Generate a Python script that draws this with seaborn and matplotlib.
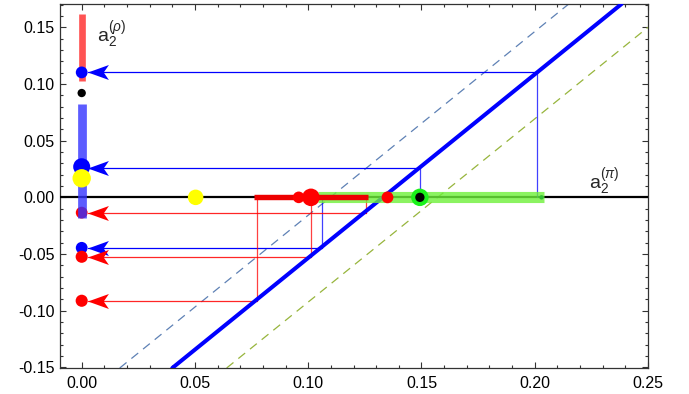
import numpy as np
import pandas as pd
import matplotlib
matplotlib.use("Agg")
import matplotlib.pyplot as plt
from matplotlib.path import Path
from matplotlib.ticker import MultipleLocator, FormatStrFormatter
import seaborn as sns

# ---------------- data ----------------
# three parallel straight lines (end points inside the frame)
main_line_x = [0.0400, 0.2383]
main_line_y = [-0.1505, 0.1705]
left_dash_x = [0.0168, 0.2150]
left_dash_y = [-0.1505, 0.1705]
right_dash_x = [0.0640, 0.2500]
right_dash_y = [-0.1505, 0.1500]

# blue steps (a2 pi on axis -> line -> a2 rho on y axis)
blue_step_x = [0.2012, 0.1493, 0.1060]
blue_step_y = [0.1102, 0.0260, -0.0445]
# red steps
red_step_x = [0.1253, 0.1012, 0.0772]
red_step_y = [-0.0135, -0.0524, -0.0912]

# range bars
rho_red_bar = [0.1028, 0.1616]
rho_blue_bar = [-0.0185, 0.0820]
pi_red_bar = [0.0761, 0.1264]
pi_green_bar = [0.1043, 0.2040]

# points on the y axis
yaxis_blue_y = [0.1102, -0.0445]
yaxis_blue_big_y = [0.0270]
yaxis_red_y = [-0.0524, -0.0912]
yaxis_red_under_y = [-0.0135]
yaxis_black_y = [0.0920]
yaxis_yellow_y = [0.0168]

# points on the x axis
xaxis_yellow_x = [0.0503]
xaxis_red_x = [0.0958, 0.1350, 0.1012]
xaxis_red_size = [70, 72, 160]
xaxis_green_x = [0.1493]
xaxis_green_end_x = [0.2030]

xticks = [0.00, 0.05, 0.10, 0.15, 0.20, 0.25]
yticks = [-0.15, -0.10, -0.05, 0.00, 0.05, 0.10, 0.15]

# ---------------- style ----------------
sns.set_theme(style="ticks")
plt.rcParams['font.family'] = ['Liberation Sans', 'DejaVu Sans']
plt.rcParams['mathtext.fontset'] = 'custom'
plt.rcParams['mathtext.rm'] = 'Liberation Sans'
plt.rcParams['mathtext.it'] = 'Liberation Sans:italic'

fig = plt.figure(figsize=(6.89, 3.94), dpi=100)
ax = fig.add_axes([0.0871, 0.066, 0.8534, 0.9238])
ax.set_xlim(-0.00957, 0.25)
ax.set_ylim(-0.1505, 0.1705)

BLUE = (0, 0, 1)
RED = (1, 0, 0)

# dashed guide lines
sns.lineplot(x=left_dash_x, y=left_dash_y, ax=ax, color="#5E81B5", lw=0.9,
             linestyle=(0, (7, 5)), zorder=2, sort=False)
sns.lineplot(x=right_dash_x, y=right_dash_y, ax=ax, color="#97B53C", lw=0.9,
             linestyle=(0, (7, 5)), zorder=2, sort=False)

# x axis line
ax.axhline(0, color="black", lw=1.6, zorder=3)

# step lines
for xs, ys in zip(blue_step_x, blue_step_y):
    ax.plot([xs, xs], [0, ys], color=BLUE, lw=0.9, alpha=0.75, zorder=4)
    ax.plot([0.003, xs], [ys, ys], color=BLUE, lw=0.9, zorder=4)
for xs, ys in zip(red_step_x, red_step_y):
    ax.plot([xs, xs], [0, ys], color=RED, lw=0.9, alpha=0.75, zorder=4)
    ax.plot([0.003, xs], [ys, ys], color=RED, lw=0.9, alpha=0.85, zorder=4)

# main line
sns.lineplot(x=main_line_x, y=main_line_y, ax=ax, color=BLUE, lw=2.9,
             zorder=5, sort=False)

# range bars on the x axis
ax.plot(pi_green_bar, [0, 0], color="#6ef03a", lw=8.0, alpha=0.8,
        solid_capstyle="butt", zorder=6)
ax.plot(pi_red_bar, [0, 0], color=(0.93, 0, 0), lw=3.9,
        solid_capstyle="butt", zorder=7)

# arrow heads (custom notched marker)
arrow = Path([(-1, 0), (1, 0.72), (0.5, 0), (1, -0.72), (-1, 0)],
             [Path.MOVETO, Path.LINETO, Path.LINETO, Path.LINETO, Path.CLOSEPOLY])
for ys in blue_step_y:
    ax.plot([0.0071], [ys], marker=arrow, markersize=15.0, color=BLUE,
            markeredgewidth=0, zorder=9)
for ys in red_step_y:
    ax.plot([0.0071], [ys], marker=arrow, markersize=15.0, color=RED,
            markeredgewidth=0, zorder=9)

# points on y axis
sns.scatterplot(x=[0] * len(yaxis_red_under_y), y=yaxis_red_under_y, ax=ax, s=72,
                color=RED, edgecolor="none", zorder=8)
ax.plot([0, 0], rho_blue_bar, color=(0.2, 0.2, 1), lw=6.3, alpha=0.8,
        solid_capstyle="butt", zorder=9)
ax.plot([0, 0], rho_red_bar, color=(1, 0.25, 0.25), lw=4.8, alpha=0.9,
        solid_capstyle="butt", zorder=9)
sns.scatterplot(x=[0] * len(yaxis_blue_y), y=yaxis_blue_y, ax=ax, s=72,
                color=BLUE, edgecolor="none", zorder=10)
sns.scatterplot(x=[0] * len(yaxis_blue_big_y), y=yaxis_blue_big_y, ax=ax, s=150,
                color=BLUE, edgecolor="none", zorder=10)
sns.scatterplot(x=[0] * len(yaxis_red_y), y=yaxis_red_y, ax=ax, s=76,
                color=RED, edgecolor="none", zorder=10)
sns.scatterplot(x=[0] * len(yaxis_black_y), y=yaxis_black_y, ax=ax, s=36,
                color="black", edgecolor="none", zorder=10)
sns.scatterplot(x=[0] * len(yaxis_yellow_y), y=yaxis_yellow_y, ax=ax, s=175,
                color=(1, 1, 0), edgecolor="none", zorder=11)

# points on x axis
sns.scatterplot(x=xaxis_yellow_x, y=[0], ax=ax, s=125, color=(1, 1, 0),
                edgecolor="none", zorder=10)
for xr, sr in zip(xaxis_red_x, xaxis_red_size):
    sns.scatterplot(x=[xr], y=[0], ax=ax, s=sr, color=RED,
                    edgecolor="none", zorder=10)
sns.scatterplot(x=xaxis_green_x, y=[0], ax=ax, s=158, color=(0.1, 0.95, 0.1),
                edgecolor="none", zorder=10)
sns.scatterplot(x=xaxis_green_x, y=[0], ax=ax, s=45, color="black",
                edgecolor="none", zorder=11)
sns.scatterplot(x=xaxis_green_end_x, y=[0], ax=ax, s=10, color=(0.2, 0.75, 0.2),
                edgecolor="none", zorder=11)

# labels
ax.text(0.0068, 0.1430, r"$\mathrm{a}_2^{(\rho)}$", fontsize=14, va="center",
        ha="left", zorder=12)
ax.text(0.2240, 0.0135, r"$\mathrm{a}_2^{(\pi)}$", fontsize=14, va="center",
        ha="left", zorder=12)

# ticks and frame
ax.set_xticks(xticks)
ax.set_yticks(yticks)
ax.xaxis.set_major_formatter(FormatStrFormatter("%.2f"))
ax.yaxis.set_major_formatter(FormatStrFormatter("%.2f"))
ax.xaxis.set_minor_locator(MultipleLocator(0.01))
ax.yaxis.set_minor_locator(MultipleLocator(0.01))
ax.tick_params(which="both", direction="in", top=True, right=True,
               color="#333333", width=0.8)
ax.tick_params(which="major", length=4.5, labelsize=11.5, labelcolor="black")
ax.tick_params(which="minor", length=2.2)
ax.tick_params(axis="x", which="major", pad=6)
ax.tick_params(axis="y", which="major", pad=4)
for sp in ax.spines.values():
    sp.set_color("#333333")
    sp.set_linewidth(0.9)
    sp.set_visible(True)
ax.set_xlabel("")
ax.set_ylabel("")

fig.savefig("out.png", dpi=100)
